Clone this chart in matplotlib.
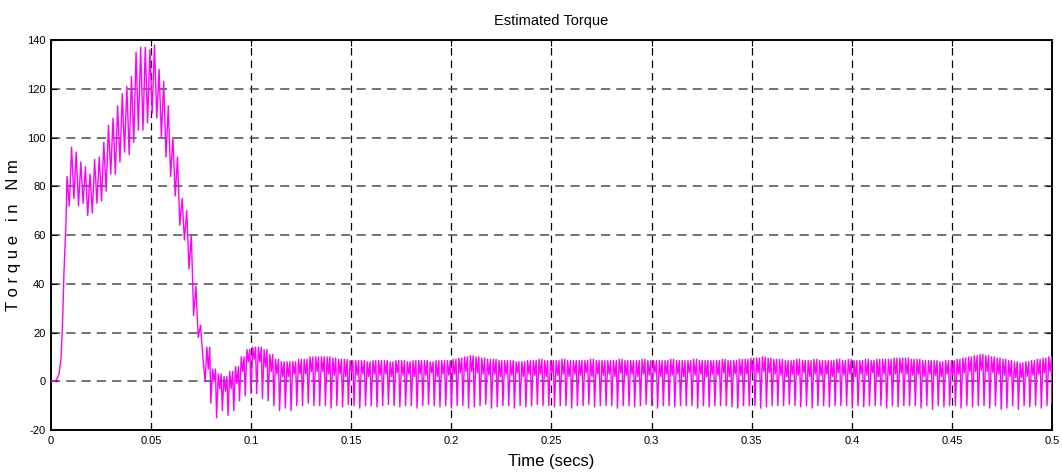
"""
Estimated Torque - MATLAB style scope plot
"""
import numpy as np
import matplotlib.pyplot as plt

plt.rcParams['font.family'] = ['Liberation Sans', 'DejaVu Sans']
plt.rcParams['axes.unicode_minus'] = False

# start-up ramp (time in s, torque in N m)
ramp_t = [0.0, 0.002, 0.003, 0.004, 0.005, 0.0055, 0.006, 0.0065, 0.007, 0.0075]
ramp_y = [0, 0, 1, 3, 9, 18, 30, 45, 55, 65]

# hump: ripple peaks / dips per cycle, from t = 0.008 to 0.075
hump_hi = [84, 96, 94, 90, 88, 85, 91, 92, 98, 105,
           108, 113, 118, 121, 125, 135, 137, 137, 136, 138,
           128, 123, 113, 100, 92, 75, 70, 60, 39, 23]
hump_lo = [72, 75, 72, 73, 68, 69, 73, 74, 78, 85,
           85, 90, 94, 93, 98, 103, 103, 106, 110, 108,
           100, 92, 84, 76, 64, 58, 46, 27, 18, 10]

# after 0.077 s: dip, peak and middle level per ripple cycle
ss_lo = [0, -9, -15, -12, -14, -12, -8, -6, -5, -5,
         -7, -8, -10, -12, -11, -12, -10, -10, -9, -10,
         -10, -10, -11, -10, -10.5, -9.5, -10, -11, -10, -10, -10.5,
         -10, -9.5, -10, -10.5, -10, -10, -11, -10, -9.5, -10,
         -10.5, -10, -11, -10, -10, -11, -10.5, -10, -9.5, -11,
         -10.5, -10, -10, -11, -10, -10.5, -10, -9.5, -10, -10,
         -10.5, -10, -10, -11, -10, -10, -9.5, -10.5, -10, -10,
         -10, -11, -10, -10, -10.5, -10, -9.5, -10, -11, -10,
         -10, -10.5, -10, -10, -10, -11, -10, -10.5, -10, -10,
         -10, -10.5, -11, -10, -10, -10, -11, -10.5, -10, -10,
         -10, -9.5, -10, -10.5, -10, -11, -10, -10, -10.5, -10,
         -10, -10, -11, -10, -10.5, -10, -10, -10, -11, -10,
         -10.5, -10, -10, -10, -11, -10, -11.5, -10, -10.5, -10,
         -10, -11, -10, -10.5, -10, -10, -11, -10, -11.5, -11,
         -10, -11.5, -10, -10.5, -10, -11, -10]
ss_hi = [14, 5, 3, 2, 4, 6, 10, 13, 14, 14,
         13, 11, 9, 8, 8, 8, 9, 9, 10, 10,
         10, 10, 9.5, 9, 9, 8.5, 8.5, 8.5, 8, 8.5, 8.5,
         8.5, 8, 8.5, 8.5, 8, 8.5, 8.5, 8.5, 8, 8.5,
         8.5, 8.5, 9, 9.5, 10, 10.5, 10, 9.5, 9, 9,
         8.5, 8.5, 8.5, 8, 8, 8.5, 8.5, 9, 8.5, 8.5,
         8.5, 9, 8.5, 8.5, 8.5, 8.5, 9, 8.5, 8.5, 8.5,
         8.5, 9, 8.5, 8.5, 8.5, 9, 8.5, 8.5, 8.5, 8.5,
         9, 8.5, 8.5, 8.5, 9, 8.5, 8.5, 8.5, 8.5, 9,
         8.5, 8.5, 9, 9, 9.5, 9.5, 10, 9.5, 9, 9,
         8.5, 8.5, 9, 8.5, 8.5, 9, 8.5, 8.5, 8.5, 9,
         8.5, 9, 8.5, 8.5, 9, 8.5, 9, 9, 9, 9.5,
         9.5, 9.5, 9, 9, 8.5, 8.5, 8.5, 8, 8.5, 8.5,
         9, 9.5, 10, 10.5, 11, 10.5, 10, 9.5, 9, 8.5,
         8, 7.5, 8, 8.5, 9, 9.5, 10]
ss_mid = [5, 0, -3, -4, -3, -1, 4, 8, 9, 8,
          6, 4, 3, 2, 2, 3, 3, 3, 4, 4,
          4, 3, 2.5, 3, 2, 3.5, 2.5, 3, 2, 3, 2.5,
          3, 2, 3.5, 2.5, 3, 2, 3, 2.5, 3.5, 2,
          3, 2.5, 3, 3.5, 4, 4, 3.5, 3, 2.5, 3,
          2, 3, 2.5, 3.5, 2, 3, 2.5, 3, 2, 3.5,
          2.5, 3, 2, 3, 2.5, 3.5, 2, 3, 2.5, 3,
          2, 3.5, 2.5, 3, 2, 3, 2.5, 3.5, 2, 3,
          2.5, 3, 2, 3.5, 2.5, 3, 2, 3, 2.5, 3.5,
          2, 3, 2.5, 3, 3.5, 3.5, 4, 3.5, 3, 2.5,
          2, 3, 2.5, 3.5, 2, 3, 2.5, 3, 2, 3.5,
          2.5, 3, 2, 3, 2.5, 3.5, 2, 3, 2.5, 3,
          3.5, 3, 2.5, 3, 2, 3, 2.5, 2, 3, 2.5,
          3, 3.5, 4, 4, 4.5, 4, 3.5, 3, 2.5, 2,
          1.5, 1.5, 2, 2.5, 3, 3.5, 4]
end_t, end_y = 0.5, -9

x_ticks = [0, 0.05, 0.1, 0.15, 0.2, 0.25, 0.3, 0.35, 0.4, 0.45, 0.5]
x_labels = ['0', '0.05', '0.1', '0.15', '0.2', '0.25', '0.3', '0.35', '0.4', '0.45', '0.5']
y_ticks = [-20, 0, 20, 40, 60, 80, 100, 120, 140]

# assemble the waveform
t = list(ramp_t)
y = list(ramp_y)
hump_t0 = np.linspace(0.008, 0.0747, len(hump_hi))
dp = hump_t0[1] - hump_t0[0]
for t0, hi, lo in zip(hump_t0, hump_hi, hump_lo):
    t += [t0, t0 + dp / 2]
    y += [hi, lo]
ss_t0 = np.linspace(0.077, 0.4975, len(ss_lo))
p = ss_t0[1] - ss_t0[0]
for t0, lo, hi, mid in zip(ss_t0, ss_lo, ss_hi, ss_mid):
    t += [t0, t0 + 0.3 * p, t0 + 0.55 * p, t0 + 0.8 * p]
    y += [lo, hi, mid, hi]
t.append(end_t)
y.append(end_y)

fig = plt.figure(figsize=(10.62, 4.76), dpi=100)
ax = fig.add_axes([0.048, 0.0966, 0.9426, 0.8193])

ax.plot(t, y, color='#ff00ff', linewidth=1.0, zorder=3)

ax.set_xlim(0, 0.5)
ax.set_ylim(-20, 140)
ax.set_xticks(x_ticks)
ax.set_xticklabels(x_labels)
ax.set_yticks(y_ticks)
ax.tick_params(direction='in', length=4, width=0.8, labelsize=8,
               top=True, right=True, pad=4)

# dashed MATLAB grid
for xv in x_ticks[1:-1]:
    ax.axvline(xv, color='black', linestyle=(0, (6, 4)), linewidth=0.9, zorder=1)
for yv in y_ticks[1:-1]:
    ax.axhline(yv, color='0.3', linestyle=(0, (6, 4)), linewidth=1.1, zorder=1)

for sp in ax.spines.values():
    sp.set_linewidth(1.4)
    sp.set_color('black')

ax.set_title('Estimated Torque', fontsize=10.5, pad=11)
ax.set_xlabel('Time (secs)', fontsize=12, labelpad=6)
ax.set_ylabel('T o r q u e   i n   N m', fontsize=12, labelpad=4)

fig.savefig('out.png', dpi=100, facecolor='white')
